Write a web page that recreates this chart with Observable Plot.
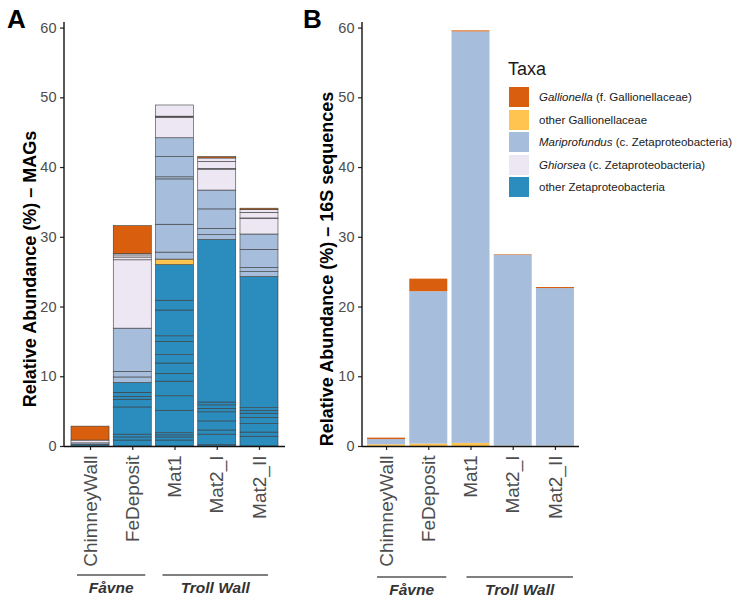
<!DOCTYPE html>
<html><head><meta charset="utf-8">
<script src="https://cdn.jsdelivr.net/npm/d3@7"></script>
<script src="https://cdn.jsdelivr.net/npm/@observablehq/plot@0.6"></script>
<style>
body{margin:0;background:#fff;font-family:"Liberation Sans",Arial,sans-serif;}
#wrap{position:relative;width:735px;height:595px;overflow:hidden;background:#fff;}
#pa{position:absolute;left:0;top:0;}
#pb{position:absolute;left:300px;top:0;}
#legend{position:absolute;left:508px;top:59px;color:#1a1a1a;}
#legend .title{font-size:18px;line-height:20px;margin-bottom:7px;color:#1a1a1a;}
#legend .row{display:flex;align-items:center;height:22.5px;}
#legend .sw{width:20px;height:20px;margin-left:1px;margin-right:10px;}
#legend .lab{font-size:11.5px;}
</style></head>
<body><div id="wrap"><div id="pa"></div><div id="pb"></div><div id="legend"></div></div>
<script>
// ---- data ----
const samples = ["ChimneyWall", "FeDeposit", "Mat1", "Mat2_I", "Mat2_II"];
const taxa = ["Gallionella (f. Gallionellaceae)", "other Gallionellaceae", "Mariprofundus (c. Zetaproteobacteria)", "Ghiorsea (c. Zetaproteobacteria)", "other Zetaproteobacteria"];
const taxaGenus = ["Gallionella", "", "Mariprofundus", "Ghiorsea", ""];
const taxaRest = [" (f. Gallionellaceae)", "other Gallionellaceae", " (c. Zetaproteobacteria)", " (c. Zetaproteobacteria)", "other Zetaproteobacteria"];
const taxaColors = ["#D95F0E", "#FEC44F", "#A6BDDB", "#ECE7F2", "#2B8CBE"];
const stackOrder = [4, 1, 2, 3, 0]; // bottom -> top
const yTicks = [0, 10, 20, 30, 40, 50, 60];
const groups = ["Fåvne", "Troll Wall"];
const groupFrom = ["ChimneyWall", "Mat1"];
const groupTo = ["FeDeposit", "Mat2_II"];

// Panel A: MAG segments per sample (bottom -> top)
const magGallionella = [[2.0], [4.0], [], [0.2], [0.2]];
const magOtherGall = [[], [], [0.8], [], []];
const magMariprofundus = [[0.2], [0.8, 0.8, 6.2], [1.0, 4.0, 6.5, 0.3, 2.9, 2.7], [0.7, 0.9, 2.8, 2.7], [0.7, 0.6, 2.6, 2.2]];
const magGhiorsea = [[0.4], [9.8, 0.4, 0.3, 0.2], [2.9, 0.1, 0.1, 1.6], [3.0, 0.1, 1.0, 0.5], [2.2, 0.1, 0.8, 0.4]];
const magOtherZeta = [
  [0.25],
  [0.86, 0.44, 0.4, 3.9, 1.1, 0.4, 0.6, 1.4],
  [0.86, 0.44, 0.3, 0.3, 3.2, 2.1, 2.1, 1.1, 1.5, 1.2, 1.9, 0.8, 3.7, 1.4, 5.1],
  [0.2, 1.5, 0.6, 1.3, 1.3, 0.5, 0.5, 0.4, 23.3],
  [1.4, 0.6, 1.2, 0.9, 0.6, 0.4, 0.4, 18.8]
];

// Panel B: 16S sequences per sample
const seqGallionella = [0.2, 1.8, 0.15, 0.08, 0.15];
const seqOtherGall = [0.25, 0.35, 0.45, 0.05, 0.05];
const seqMariprofundus = [0.75, 21.85, 59.0, 27.37, 22.6];
const seqGhiorsea = [0, 0, 0, 0, 0];
const seqOtherZeta = [0, 0, 0, 0, 0];

// ---- build tables ----
const magByTaxon = [magGallionella, magOtherGall, magMariprofundus, magGhiorsea, magOtherZeta];
const seqByTaxon = [seqGallionella, seqOtherGall, seqMariprofundus, seqGhiorsea, seqOtherZeta];
const magRows = [], seqRows = [];
samples.forEach((s, i) => {
  stackOrder.forEach(k => {
    magByTaxon[k][i].forEach((v, j) => magRows.push({sample: s, taxon: taxa[k], value: v, id: `${s}-${k}-${j}`}));
    if (seqByTaxon[k][i] > 0) seqRows.push({sample: s, taxon: taxa[k], value: seqByTaxon[k][i], id: `${s}-${k}`});
  });
});

const FONT = "Liberation Sans, Arial, sans-serif";
const H = 595, MT = 22, MB = 149, YMAX = 60.8;

function panel({rows, width, ml, mr, po, stroke, ylabel, ylabelX, letter, letterX, groupY, insets}) {
  const plot = Plot.plot({
    width, height: H, marginTop: MT, marginBottom: MB, marginLeft: ml, marginRight: mr,
    style: {fontFamily: FONT, background: "transparent", overflow: "visible"},
    x: {domain: samples, paddingInner: 0.1, paddingOuter: po, round: false, label: null, axis: null},
    y: {domain: [0, YMAX], label: null, axis: null},
    color: {domain: taxa, range: taxaColors},
    marks: [
      Plot.barY(rows, {x: "sample", y: "value", fill: "taxon", z: "id", order: null,
        stroke: stroke ? "#3d3d3d" : "none", strokeWidth: 0.6, insetLeft: 0, insetRight: 0}),
      Plot.axisY({ticks: yTicks, tickSize: 4, tickPadding: 4, fontSize: 14.5, stroke: "#222", fill: "#4d4d4d", strokeWidth: 1.2, label: null}),
      Plot.axisX({tickRotate: -90, tickSize: 4, tickPadding: 5, fontSize: 19, stroke: "#222", fill: "#4d4d4d", strokeWidth: 1.2, label: null}),
      Plot.ruleY([0], {stroke: "#111", strokeWidth: 1.4})
    ]
  });
  const svg = d3.select(plot);
  // y axis line
  svg.append("line").attr("x1", ml).attr("x2", ml).attr("y1", MT).attr("y2", H - MB + 0.7)
    .attr("stroke", "#111").attr("stroke-width", 1.4);
  // y label
  svg.append("text").attr("transform", `translate(${ylabelX},269) rotate(-90)`)
    .attr("text-anchor", "middle").attr("font-weight", "bold").attr("font-size", 18)
    .attr("font-family", FONT).attr("fill", "#000").text(ylabel);
  // panel letter
  svg.append("text").attr("x", letterX).attr("y", 28).attr("text-anchor", "start")
    .attr("font-weight", "bold").attr("font-size", 26)
    .attr("font-family", FONT).attr("fill", "#000").text(letter);
  // group annotations using a band scale matching the plot's x scale
  const xs = d3.scaleBand().domain(samples).range([ml, width - mr]).paddingInner(0.1).paddingOuter(po);
  groups.forEach((g, i) => {
    const x1 = xs(groupFrom[i]) + insets[i][0];
    const x2 = xs(groupTo[i]) + xs.bandwidth() - insets[i][1];
    svg.append("line").attr("x1", x1).attr("x2", x2).attr("y1", groupY).attr("y2", groupY)
      .attr("stroke", "#555").attr("stroke-width", 1.5);
    svg.append("text").attr("x", (x1 + x2) / 2).attr("y", groupY + 18).attr("text-anchor", "middle")
      .attr("font-weight", "bold").attr("font-style", "italic").attr("font-size", 15.5)
      .attr("font-family", FONT).attr("fill", "#333").text(g);
  });
  return plot;
}

document.getElementById("pa").append(panel({
  rows: magRows, width: 300, ml: 64, mr: 15, po: 0.166, stroke: true,
  ylabel: "Relative Abundance (%) – MAGs", ylabelX: 36, letter: "A", letterX: 7,
  groupY: 575, insets: [[6, 6], [7, 10]]
}));
document.getElementById("pb").append(panel({
  rows: seqRows, width: 435, ml: 62, mr: 156, po: 0.12, stroke: false,
  ylabel: "Relative Abundance (%) – 16S sequences", ylabelX: 33, letter: "B", letterX: 3,
  groupY: 577, insets: [[10, 1], [15, 1]]
}));

// legend
const leg = d3.select("#legend");
leg.append("div").attr("class", "title").text("Taxa");
taxa.forEach((t, i) => {
  const r = leg.append("div").attr("class", "row");
  r.append("div").attr("class", "sw").style("background", taxaColors[i]);
  const l = r.append("div").attr("class", "lab");
  if (taxaGenus[i]) l.append("i").text(taxaGenus[i]);
  l.append("span").text(taxaRest[i]);
});
</script>
</body></html>
